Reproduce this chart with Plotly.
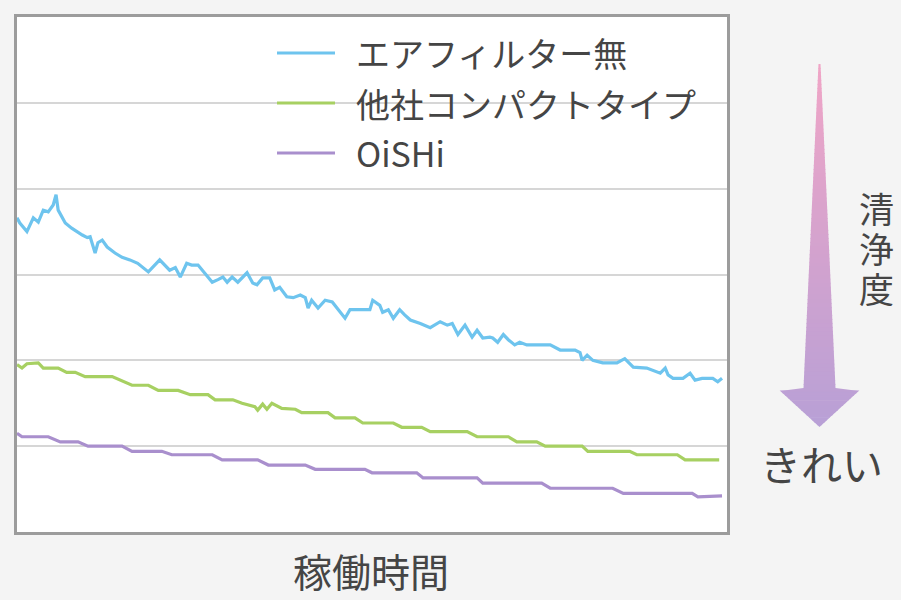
import plotly.graph_objects as go

# ---------------- data ----------------
series_names = ["エアフィルター無", "他社コンパクトタイプ", "OiSHi"]

t_blue = [0, 0.4, 1.4, 2.3, 3.0, 3.7, 4.4, 5.1, 5.5, 5.8, 6.8, 7.7, 9.2, 9.9, 10.3, 11.0,
          11.4, 12.0, 12.7, 13.8, 14.8, 15.9, 17.0, 18.5, 20.1, 21.5, 22.3, 23.0, 23.9,
          24.6, 25.5, 26.9, 27.5, 28.3, 29.0, 29.6, 30.3, 31.1, 32.4, 33.2, 33.8, 34.6,
          35.6, 36.3, 37.0, 38.0, 38.9, 39.9, 40.6, 41.0, 41.5, 42.4, 43.4, 44.4, 45.2,
          46.2, 46.9, 49.7, 50.1, 51.1, 51.5, 52.3, 53.0, 53.9, 54.6, 55.4, 56.8, 58.2,
          59.6, 60.6, 61.3, 62.1, 63.1, 64.1, 64.8, 65.6, 66.6, 67.0, 67.7, 68.5, 69.2,
          70.1, 70.8, 71.8, 75.1, 76.5, 78.6, 79.3, 79.6, 80.3, 81.1, 82.5, 84.5, 85.6,
          86.8, 88.7, 90.6, 91.3, 91.7, 92.4, 93.8, 94.8, 95.5, 96.5, 98.0, 98.7, 99.3]
blue = [366, 360, 350, 366, 361, 375, 373, 381, 393, 375, 360, 354, 346, 343, 344, 325,
        337, 340, 332, 325, 320, 317, 313, 303, 317, 305, 308, 297, 313,
        311, 311, 297, 291, 294, 297, 291, 297, 291, 302, 290, 288, 296,
        296, 282, 285, 274, 273, 276, 273, 261, 270, 261, 270, 268, 259,
        249, 259, 259, 270, 264, 256, 259, 249, 259, 253, 247, 243, 238,
        245, 241, 243, 230, 241, 227, 235, 226, 227, 226, 221, 230, 224,
        218, 221, 218, 218, 212, 212, 209, 200, 206, 200, 197, 197, 202,
        192, 191, 185, 191, 183, 179, 179, 185, 177, 179, 179, 175, 179]

t_green = [0, 0.7, 1.4, 3.0, 3.7, 5.8, 7.0, 8.2, 9.6, 13.4, 16.2, 18.5, 19.9, 22.7, 24.4,
           26.9, 27.9, 30.4, 31.7, 33.5, 33.9, 34.6, 35.2, 35.9, 37.3, 39.2, 40.1, 43.8,
           44.8, 47.6, 48.7, 53.0, 54.2, 57.0, 58.2, 63.4, 64.8, 69.2, 70.4, 73.2, 74.4,
           79.6, 80.4, 86.3, 87.3, 93.0, 94.1, 98.9]
green = [195, 191, 196, 197, 191, 191, 186, 186, 181, 181, 171, 171, 165, 165, 160,
         160, 154, 154, 150, 146, 142, 149, 143, 150, 144, 143, 139, 139,
         133, 133, 127, 127, 122, 122, 117, 117, 111, 111, 105, 105, 100,
         100, 94, 94, 90, 90, 84, 84]

t_purple = [0, 0.7, 4.4, 6.1, 8.6, 10.0, 14.8, 16.2, 20.4, 21.8, 27.5, 28.9, 33.9, 35.4,
            40.6, 42.0, 49.0, 50.0, 56.3, 57.2, 64.8, 65.6, 73.9, 75.1, 83.9, 85.4, 95.1,
            95.9, 99.3]
purple = [115, 111, 111, 105, 105, 100, 100, 94, 94, 90, 90, 84, 84, 78,
          78, 73, 73, 69, 69, 63, 63, 57, 57, 51, 51, 45, 45,
          41, 42]

x_title = "稼働時間"
y_label = "清浄度"
clean_label = "きれい"

# ---------------- styling ----------------
FONT = "Noto Sans CJK JP"
TXT = "#454545"
BG = "#f4f4f4"
colors = ["#6ec4ee", "#a7d062", "#a98fcd"]

W, H = 901, 600
L, R, T, B = 17, 727, 17, 532  # plot area in pixels


def px(x):
    return (x - L) / (R - L)


def py(y):
    return (B - y) / (B - T)


fig = go.Figure()
for tx, ys, c, n in zip([t_blue, t_green, t_purple], [blue, green, purple], colors, series_names):
    fig.add_trace(go.Scatter(x=tx, y=ys, mode="lines", name=n,
                             line=dict(color=c, width=3.2), showlegend=False,
                             hoverinfo="skip"))

shapes = []
annotations = []

# manual legend
leg_y = [53, 103, 153]
for yy, c, n in zip(leg_y, colors, series_names):
    shapes.append(dict(type="line", xref="paper", yref="paper",
                       x0=px(277), x1=px(335), y0=py(yy), y1=py(yy),
                       line=dict(color=c, width=3)))
    annotations.append(dict(xref="paper", yref="paper", x=px(354), y=py(yy),
                            text=n, showarrow=False, xanchor="left", yanchor="middle",
                            font=dict(family=FONT, size=34, color=TXT)))

# gradient arrow (slices)
cx = 819.5
y_top, y_neck, y_tip = 64, 388, 427
w_top, w_neck, head_half = 1.0, 16.0, 42.5
c0 = (240, 165, 198)
c1 = (184, 160, 214)


def col(y):
    f = (y - y_top) / (y_tip - y_top)
    f = min(max(f, 0), 1)
    r = [round(a + (b - a) * f) for a, b in zip(c0, c1)]
    return "rgb(%d,%d,%d)" % tuple(r)


def half_w(y):
    if y <= y_neck:
        return w_top + (w_neck - w_top) * (y - y_top) / (y_neck - y_top)
    return head_half * (y_tip - y) / (y_tip - y_neck)


N = 80
step = (y_neck - y_top) / N
for i in range(N):
    ya = y_top + i * step
    yb = min(ya + step + 0.8, y_neck + 0.5)
    ha, hb = half_w(ya), half_w(min(yb, y_neck))
    path = "M%f,%f L%f,%f L%f,%f L%f,%f Z" % (
        px(cx - ha), py(ya), px(cx + ha), py(ya), px(cx + hb), py(yb), px(cx - hb), py(yb))
    shapes.append(dict(type="path", xref="paper", yref="paper", path=path,
                       fillcolor=col(ya + step / 2), line=dict(width=0), layer="above"))
M = 16
step2 = (y_tip - y_neck) / M
for i in range(M):
    ya = y_neck + i * step2
    yb = min(ya + step2 + 0.6, y_tip)
    ha, hb = half_w(ya), half_w(yb)
    path = "M%f,%f L%f,%f L%f,%f L%f,%f Z" % (
        px(cx - ha), py(ya), px(cx + ha), py(ya), px(cx + hb), py(yb), px(cx - hb), py(yb))
    shapes.append(dict(type="path", xref="paper", yref="paper", path=path,
                       fillcolor=col(ya + step2 / 2), line=dict(width=0), layer="above"))

# side labels: vertical 清浄度 (one char per annotation, tight pitch like the reference)
for i, ch in enumerate(y_label):
    annotations.append(dict(xref="paper", yref="paper", x=px(876), y=py(207 + 40 * i),
                            text=ch, showarrow=False, height=38, valign="middle",
                            xanchor="center", yanchor="middle",
                            font=dict(family=FONT, size=35, color=TXT)))
annotations.append(dict(xref="paper", yref="paper", x=px(821), y=py(463),
                        text=clean_label, showarrow=False,
                        xanchor="center", yanchor="middle",
                        font=dict(family=FONT, size=41, color=TXT)))
annotations.append(dict(xref="paper", yref="paper", x=px(371), y=py(599.5),
                        text=x_title, showarrow=False,
                        xanchor="center", yanchor="bottom",
                        font=dict(family=FONT, size=39, color=TXT)))

fig.update_layout(
    width=W, height=H,
    margin=dict(l=L, r=W - R, t=T, b=H - B, pad=0),
    paper_bgcolor=BG, plot_bgcolor="#ffffff",
    shapes=shapes, annotations=annotations,
    xaxis=dict(range=[0, 100], showgrid=False, zeroline=False, showticklabels=False,
               ticks="", showline=True, mirror=True, linecolor="#9c9c9c", linewidth=2.5,
               fixedrange=True),
    yaxis=dict(range=[0, 600], dtick=100, showgrid=True, gridcolor="#d6d6d6", gridwidth=1.5,
               zeroline=False, showticklabels=False, ticks="", showline=True, mirror=True,
               linecolor="#9c9c9c", linewidth=2.5, fixedrange=True),
    font=dict(family=FONT, color=TXT),
)

fig.write_html(
    "out.html",
    config={"displayModeBar": False},
    post_script="document.body.style.margin='0';document.body.style.background='%s';" % BG,
)
